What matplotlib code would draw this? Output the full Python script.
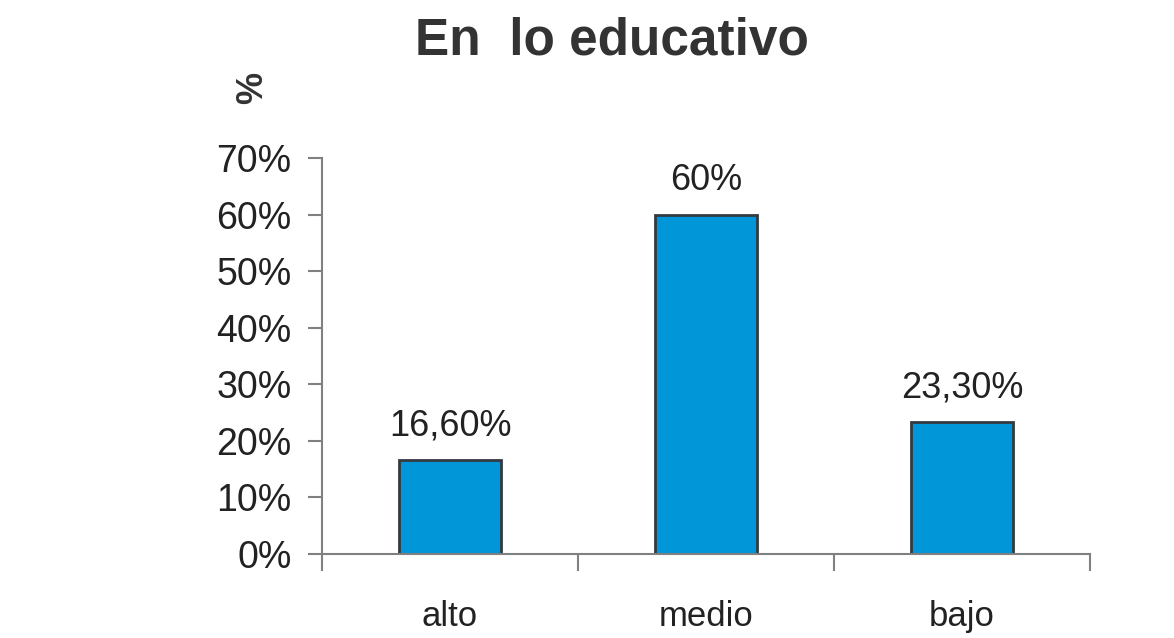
import matplotlib.pyplot as plt
from matplotlib.ticker import PercentFormatter

plt.rcParams['font.family'] = ['Liberation Sans', 'DejaVu Sans']

# Datos
categorias = ["alto", "medio", "bajo"]
valores = [16.6, 60.0, 23.3]
etiquetas = ["16,60%", "60%", "23,30%"]

fig = plt.figure(figsize=(11.74, 6.38), dpi=100)
ax = fig.add_axes([0.2743, 0.1317, 0.6542, 0.6207])

x = range(len(categorias))
ax.bar(x, valores, width=0.4, color="#0096d8", edgecolor="#333a40", linewidth=2)

for xi, v, t in zip(x, valores, etiquetas):
    ax.text(xi, v + 3, t, ha="center", va="bottom", fontsize=26, color="#222222")

ax.set_xlim(-0.5, 2.5)
ax.set_ylim(0, 70)
ax.set_yticks(range(0, 71, 10))
ax.yaxis.set_major_formatter(PercentFormatter(decimals=0))

# ticks del eje x en los bordes de cada categoría
ax.set_xticks([-0.5, 0.5, 1.5, 2.5])
ax.set_xticklabels([])
ax.set_xticks(list(x), minor=True)
ax.set_xticklabels(categorias, minor=True)
ax.tick_params(axis="x", which="minor", length=0, pad=33, labelsize=25, labelcolor="#222222")
ax.tick_params(axis="x", which="major", length=12, width=1.5, color="#808080")
ax.tick_params(axis="y", length=10, width=1.5, color="#808080", labelsize=27,
               pad=12, labelcolor="#222222")

for s in ["top", "right"]:
    ax.spines[s].set_visible(False)
for s in ["left", "bottom"]:
    ax.spines[s].set_color("#808080")
    ax.spines[s].set_linewidth(1.5)

fig.text(0.521, 0.935, "En  lo educativo", ha="center", va="center",
         fontsize=37, fontweight="bold", color="#333333")
fig.text(0.215, 0.862, "%", ha="center", va="center", rotation=90,
         fontsize=26, fontweight="bold", color="#333333")

fig.savefig("out.png", dpi=100)
